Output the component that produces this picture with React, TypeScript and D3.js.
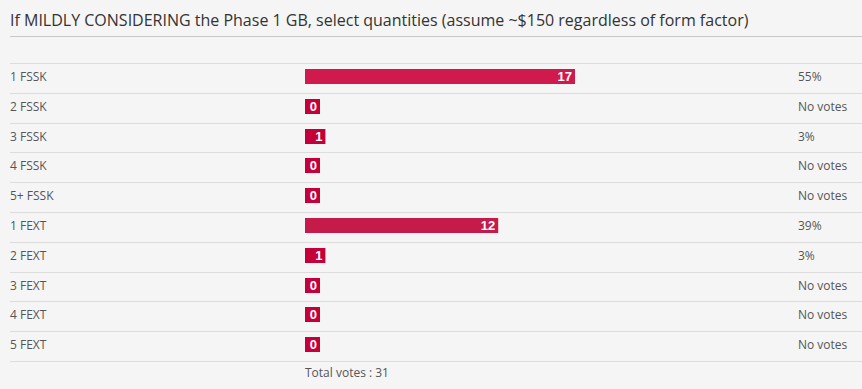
import * as d3 from 'd3';
import React from 'react';

const title = "If MILDLY CONSIDERING the Phase 1 GB, select quantities (assume ~$150 regardless of form factor)";
const options = ["1 FSSK", "2 FSSK", "3 FSSK", "4 FSSK", "5+ FSSK", "1 FEXT", "2 FEXT", "3 FEXT", "4 FEXT", "5 FEXT"];
const votes = [17, 0, 1, 0, 0, 12, 1, 0, 0, 0];
const totalVotes = 31;

// bar colour steps by percentage, like pollbar1..5
const barColors = ["#c4003b", "#c41b4b", "#d01a4e", "#e41653", "#f81157"];

export default function App() {
  const width = 862;
  const height = 389;
  const left = 10;
  const barLeft = 305;
  const pctLeft = 798;
  const rowTop = 63;
  const rowH = 29.8;

  const pct = votes.map((v) => Math.round((v / totalVotes) * 100));

  const xScale = d3.scaleLinear().domain([0, 100]).range([0, 480]);
  const yScale = d3
    .scaleBand<number>()
    .domain(d3.range(options.length))
    .range([rowTop, rowTop + rowH * options.length]);

  const colorFor = (p: number) => barColors[Math.min(4, Math.floor(p / 20))];

  return (
    <div style={{ position: "absolute", left: 0, top: 0, width, height, background: "#f5f5f5" }}>
      <svg width={width} height={height} style={{ display: "block" }}>
        <rect x={0} y={0} width={width} height={height} fill="#f5f5f5" />
        <text x={left} y={26} fontFamily="'Open Sans', sans-serif" fontSize={16} fill="#333">
          {title}
        </text>
        <line x1={left} x2={width} y1={36.5} y2={36.5} stroke="#c8c8c8" />

        {options.map((name, i) => {
          const y0 = yScale(i) as number;
          const w = Math.max(xScale(pct[i]) + 6, 15);
          return (
            <g key={name}>
              <line x1={left} x2={width} y1={Math.round(y0) + 0.5} y2={Math.round(y0) + 0.5} stroke="#dcdcdc" />
              <text x={left} y={y0 + 18} fontFamily="'Open Sans', sans-serif" fontSize={12} fill="#555">
                {name}
              </text>
              <rect x={barLeft} y={Math.round(y0) + 6} width={w} height={15} fill={colorFor(pct[i])} />
              <text
                x={barLeft + w - 3}
                y={Math.round(y0) + 18}
                textAnchor="end"
                fontFamily="'Liberation Sans', Arial, sans-serif"
                fontWeight="bold"
                fontSize={13}
                fill="#fff"
              >
                {votes[i]}
              </text>
              <text x={pctLeft} y={y0 + 18} fontFamily="'Open Sans', sans-serif" fontSize={12} fill="#555">
                {votes[i] > 0 ? pct[i] + "%" : "No votes"}
              </text>
            </g>
          );
        })}
        <line
          x1={left}
          x2={width}
          y1={Math.round(yScale.range()[1]) + 0.5}
          y2={Math.round(yScale.range()[1]) + 0.5}
          stroke="#dcdcdc"
        />
        <text x={barLeft} y={377} fontFamily="'Open Sans', sans-serif" fontSize={12} fill="#555">
          {"Total votes : " + totalVotes}
        </text>
      </svg>
    </div>
  );
}
